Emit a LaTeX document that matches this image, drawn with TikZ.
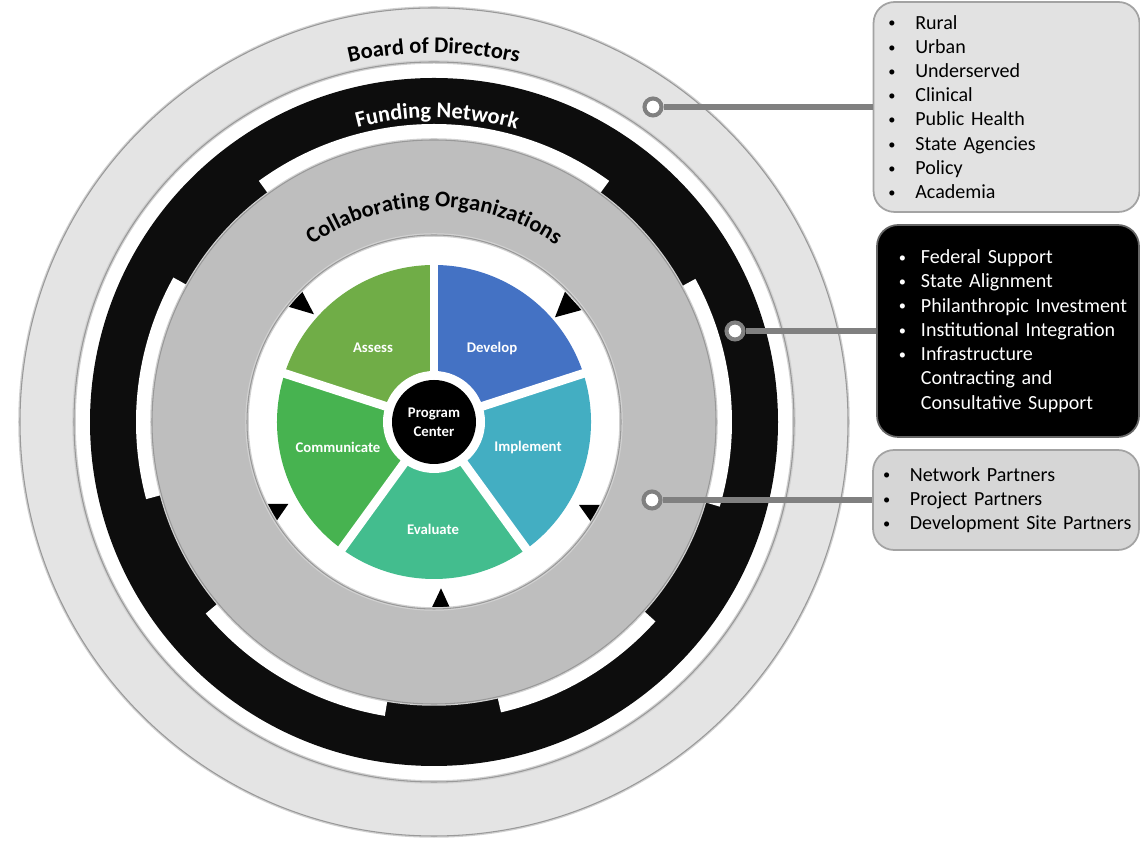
\documentclass[tikz,border=0pt]{standalone}
\usepackage{fontspec}
\usepackage{graphicx}
\setmainfont{Carlito}
\usetikzlibrary{decorations.text}
\definecolor{ringlight}{HTML}{E4E4E4}
\definecolor{ringblack}{HTML}{0D0D0D}
\definecolor{ringgray}{HTML}{BEBEBE}
\definecolor{cAssess}{HTML}{70AD47}
\definecolor{cDevelop}{HTML}{4472C4}
\definecolor{cImplement}{HTML}{43AEC2}
\definecolor{cEvaluate}{HTML}{43BD8E}
\definecolor{cCommunicate}{HTML}{47B350}
\definecolor{conn}{HTML}{808080}
\definecolor{boxlight}{HTML}{E2E2E2}
\definecolor{boxmid}{HTML}{D6D6D6}
\definecolor{boxedge}{HTML}{A3A3A3}
\newcommand{\ringlabelfont}{\fontsize{12.8}{15}\selectfont\bfseries}
\newcommand{\smallbullet}{\raisebox{0.12ex}{\scalebox{0.72}{\textbullet}}}
\newcommand{\bl}[3]{\hspace*{#1}\makebox[#2][l]{\smallbullet}#3}
\newcommand{\cl}[3]{\hspace*{#1}\hspace*{#2}#3}
\begin{document}
\begin{tikzpicture}[x=0.02cm,y=0.02cm,
  softedge/.style={draw=black!18, line width=2pt},
  hardedge/.style={draw=black!40, line width=0.6pt},
  pielabel/.style={text=white, font=\fontsize{8.4}{10.8}\selectfont\bfseries, align=center, inner sep=0pt},
  infobox/.style={rounded corners=12pt, line width=1pt, inner xsep=0pt, inner ysep=0pt, align=left, font=\fontsize{11.4}{13.8}\selectfont},
  pin/.style={circle, fill=white, draw=conn, line width=2.3pt, minimum size=0.34cm, inner sep=0pt},
  link/.style={draw=conn, line width=3.2pt},
  gapline/.style={draw=white, line width=5pt},
  tri/.style={fill=black}
]
\useasboundingbox (0,0) rectangle (1140,841);
\fill[white] (0,0) rectangle (1140,841);
\begin{scope}[shift={(434,419)}]
  % outer light ring
  \draw[softedge] (0,0) circle[radius=414];
  \fill[ringlight, even odd rule] (0,0) circle[radius=414] (0,0) circle[radius=360];
  \draw[hardedge] (0,0) circle[radius=414];
  \draw[softedge] (0,0) circle[radius=360];
  \draw[hardedge] (0,0) circle[radius=360];
  % black ring
  \fill[ringblack] (0,0) circle[radius=344];
  % white arc segments
  \foreach \a/\b in {54/126,151/195,220/260.5,283/318,-16.5/28.7}{
    \fill[white] (\a:270) arc[start angle=\a,end angle=\b,radius=270]
      -- (\b:298) arc[start angle=\b,end angle=\a,radius=298] -- cycle;
  }
  \fill[white] (0,0) circle[radius=192];
  % arrowheads
  \fill[tri] (-145.7,115.3) -- (-131.7,130.3) -- (-120,107.7) -- cycle;
  \fill[tri] (131,130.3) -- (147.7,112) -- (121,104.7) -- cycle;
  \fill[tri] (145,-83) -- (171,-83) -- (159.3,-103) -- cycle;
  \fill[tri] (-4.7,-191) -- (18.3,-191) -- (7,-166.3) -- cycle;
  \fill[tri] (-171.7,-82) -- (-145.7,-82) -- (-159,-101.3) -- cycle;
  % gray ring
  \draw[softedge] (0,0) circle[radius=282];
  \fill[ringgray, even odd rule] (0,0) circle[radius=282] (0,0) circle[radius=187];
  \draw[hardedge] (0,0) circle[radius=282];
  \draw[softedge] (0,0) circle[radius=187];
  \draw[hardedge] (0,0) circle[radius=187];
  % pie
  \fill[cDevelop] (0,0) -- (18:157) arc[start angle=18,end angle=90,radius=157] -- cycle;
  \fill[cAssess] (0,0) -- (90:157) arc[start angle=90,end angle=162,radius=157] -- cycle;
  \fill[cCommunicate] (0,0) -- (162:157) arc[start angle=162,end angle=234,radius=157] -- cycle;
  \fill[cEvaluate] (0,0) -- (234:157) arc[start angle=234,end angle=306,radius=157] -- cycle;
  \fill[cImplement] (0,0) -- (306:157) arc[start angle=306,end angle=378,radius=157] -- cycle;
  \foreach \a in {18,90,162,234,306}{\draw[gapline] (0,0) -- (\a:162);}
  \fill[white] (0,0) circle[radius=51];
  \node[circle, fill=black, minimum size=1.68cm, pielabel] (hub) at (0,0) {Program\\Center};
  \node[pielabel] (assess) at (-61,74) {Assess};
  \node[pielabel] (develop) at (58,74) {Develop};
  \node[pielabel] (implement) at (94,-25) {Implement};
  \node[pielabel] (evaluate) at (-1,-107) {Evaluate};
  \node[pielabel] (communicate) at (-96,-25) {Communicate};
  % curved ring titles
  \path[decorate, decoration={text along path, text align=center,
     text={|\ringlabelfont|Board of Directors}}]
     (170:369) arc[start angle=170,end angle=10,radius=369];
  \path[decorate, decoration={text along path, text align=center, text color=white,
     text={|\ringlabelfont|Funding Network}}]
     (169.4:304) arc[start angle=169.4,end angle=9.4,radius=304];
  \path[decorate, decoration={text along path, text align=center,
     text={|\ringlabelfont|Collaborating Organizations}}]
     (175:215) arc[start angle=175,end angle=5,radius=215];
\end{scope}
% info boxes
\node[infobox, fill=boxlight, draw=boxedge, minimum width=5.32cm, minimum height=4.2cm, text width=5.32cm] (board) at (1006.5,734)
  {\bl{8.5pt}{15.3pt}{Rural}\\\bl{8.5pt}{15.3pt}{Urban}\\\bl{8.5pt}{15.3pt}{Underserved}\\\bl{8.5pt}{15.3pt}{Clinical}\\
   \bl{8.5pt}{15.3pt}{Public Health}\\\bl{8.5pt}{15.3pt}{State Agencies}\\\bl{8.5pt}{15.3pt}{Policy}\\\bl{8.5pt}{15.3pt}{Academia}};
\node[infobox, fill=black, draw=black!60, text=white, minimum width=5.24cm, minimum height=4.24cm, text width=5.24cm] (funding) at (1008,510)
  {\bl{12.5pt}{12.5pt}{Federal Support}\\\bl{12.5pt}{12.5pt}{State Alignment}\\\bl{12.5pt}{12.5pt}{Philanthropic Investment}\\
   \bl{12.5pt}{12.5pt}{Institutional Integration}\\\bl{12.5pt}{12.5pt}{Infrastructure}\\\cl{12.5pt}{12.5pt}{Contracting and}\\
   \cl{12.5pt}{12.5pt}{Consultative Support}};
\node[infobox, fill=boxmid, draw=boxedge, minimum width=5.32cm, minimum height=2.0cm, text width=5.32cm] (collab) at (1006,341)
  {\bl{5.7pt}{15.3pt}{Network Partners}\\\bl{5.7pt}{15.3pt}{Project Partners}\\\bl{5.7pt}{15.3pt}{Development Site Partners}};
% connectors
\node[pin] (pinboard) at (653,734) {};
\node[pin] (pinfunding) at (735,510) {};
\node[pin] (pincollab) at (652,341) {};
\draw[link] (pinboard) -- (board.west);
\draw[link] (pinfunding) -- (funding.west);
\draw[link] (pincollab) -- (collab.west);
\end{tikzpicture}
\end{document}
